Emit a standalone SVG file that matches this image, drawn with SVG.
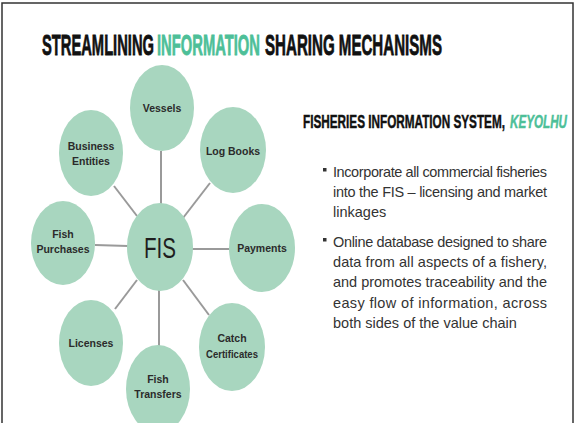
<svg xmlns="http://www.w3.org/2000/svg" width="576" height="423" viewBox="0 0 576 423">
<style>
.node{fill:#A8D6BF}
.lbl{font-family:"Liberation Sans",Arial,sans-serif;font-size:10.5px;fill:#2b2b2b;text-anchor:middle;font-weight:bold}
.con{stroke:#9a9a9a;stroke-width:2;fill:none}
.title{font-family:"Liberation Sans",Arial,sans-serif;font-weight:bold;font-size:30px;fill:#111;stroke:#111;stroke-width:0.8}
.sub{font-family:"Liberation Sans",Arial,sans-serif;font-weight:bold;font-size:19px;fill:#111;stroke:#111;stroke-width:0.5}
.body{font-family:"Liberation Sans",Arial,sans-serif;font-size:14.5px;fill:#333}
.green{fill:#4DBF98;stroke:#4DBF98}
</style>
<rect x="0" y="0" width="576" height="423" fill="#fff"/>
<rect x="2" y="3" width="571" height="430" fill="none" stroke="#333" stroke-width="1.5"/>
<g id="title">
<text class="title" x="42" y="55" textLength="112" lengthAdjust="spacingAndGlyphs">STREAMLINING</text>
<text class="title green" x="157" y="55" textLength="103" lengthAdjust="spacingAndGlyphs">INFORMATION</text>
<text class="title" x="265" y="55" textLength="177" lengthAdjust="spacingAndGlyphs">SHARING MECHANISMS</text>
</g>
<g id="connectors">
<line class="con" x1="161" y1="151" x2="161" y2="205"/>
<line class="con" x1="114" y1="186" x2="137" y2="216"/>
<line class="con" x1="210" y1="183" x2="183" y2="218"/>
<line class="con" x1="95" y1="245" x2="128" y2="246"/>
<line class="con" x1="192" y1="249" x2="231" y2="249"/>
<line class="con" x1="115" y1="309" x2="137" y2="280"/>
<line class="con" x1="159" y1="289" x2="159" y2="346"/>
<line class="con" x1="183" y1="280" x2="209" y2="315"/>
</g>
<g id="vessels"><ellipse class="node" cx="162" cy="108" rx="32" ry="43"/><text class="lbl" x="162" y="112">Vessels</text></g>
<g id="business"><ellipse class="node" cx="91" cy="153" rx="32" ry="43"/><text class="lbl" x="91" y="150">Business</text><text class="lbl" x="91" y="165">Entities</text></g>
<g id="logbooks"><ellipse class="node" cx="233" cy="150" rx="33" ry="43"/><text class="lbl" x="233" y="155">Log Books</text></g>
<g id="fishpurchases"><ellipse class="node" cx="63" cy="243" rx="32" ry="42"/><text class="lbl" x="63" y="238">Fish</text><text class="lbl" x="63" y="253">Purchases</text></g>
<g id="fis"><ellipse class="node" cx="160" cy="247" rx="33" ry="44"/><text x="160" y="258" text-anchor="middle" font-family="Liberation Sans, Arial, sans-serif" font-size="30" fill="#1e1e1e" textLength="32" lengthAdjust="spacingAndGlyphs">FIS</text></g>
<g id="payments"><ellipse class="node" cx="262" cy="248" rx="33" ry="44"/><text class="lbl" x="262" y="252">Payments</text></g>
<g id="licenses"><ellipse class="node" cx="91" cy="343" rx="32" ry="43"/><text class="lbl" x="91" y="347">Licenses</text></g>
<g id="catch"><ellipse class="node" cx="232" cy="347" rx="33" ry="44"/><text class="lbl" x="232" y="342">Catch</text><text class="lbl" x="232" y="358" textLength="52" lengthAdjust="spacingAndGlyphs">Certificates</text></g>
<g id="fishtransfers"><ellipse class="node" cx="158" cy="389" rx="32" ry="44"/><text class="lbl" x="158" y="383">Fish</text><text class="lbl" x="158" y="398">Transfers</text></g>
<g id="subtitle">
<text class="sub" x="303" y="128" textLength="202" lengthAdjust="spacingAndGlyphs">FISHERIES INFORMATION SYSTEM,</text>
<text class="sub green" x="510" y="128" font-style="italic" textLength="57" lengthAdjust="spacingAndGlyphs">KEYOLHU</text>
</g>
<g class="body">
<rect x="323" y="168" width="3.5" height="3.5" fill="#333"/>
<text x="333" y="177" textLength="214" lengthAdjust="spacing">Incorporate all commercial fisheries</text>
<text x="333" y="197" textLength="214" lengthAdjust="spacing">into the FIS – licensing and market</text>
<text x="333" y="217">linkages</text>
<rect x="323" y="238" width="3.5" height="3.5" fill="#333"/>
<text x="333" y="247" textLength="214" lengthAdjust="spacing">Online database designed to share</text>
<text x="333" y="267" textLength="214" lengthAdjust="spacing">data from all aspects of a fishery,</text>
<text x="333" y="287" textLength="214" lengthAdjust="spacing">and promotes traceability and the</text>
<text x="333" y="308" textLength="214" lengthAdjust="spacing">easy flow of information, across</text>
<text x="333" y="328">both sides of the value chain</text>
</g>
</svg>
